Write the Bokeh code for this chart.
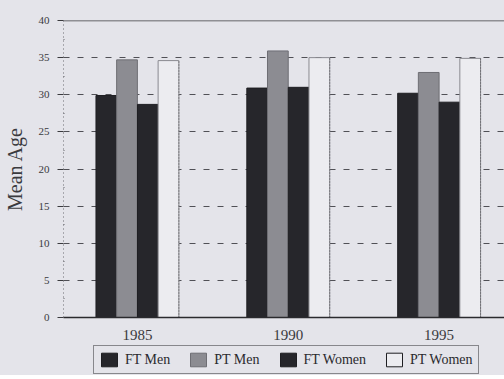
from bokeh.plotting import figure
from bokeh.layouts import column
from bokeh.models import (Range1d, FixedTicker, Span, ColumnDataSource, Legend, LegendItem)
from bokeh.embed import file_html
from bokeh.resources import INLINE

years = ["1985", "1990", "1995"]
series = ["FT Men", "PT Men", "FT Women", "PT Women"]
ft_men = [29.9, 30.9, 30.2]
pt_men = [34.7, 35.9, 33.0]
ft_women = [28.7, 31.0, 29.0]
pt_women = [34.6, 35.0, 34.9]
y_ticks = [0, 5, 10, 15, 20, 25, 30, 35, 40]

values = [ft_men, pt_men, ft_women, pt_women]
fills = ["#26262b", "#8c8c92", "#26262b", "#ececf0"]
lines = ["#1e1e22", "#6e6e74", "#1e1e22", "#8a8a90"]
offsets = [-0.206, -0.069, 0.069, 0.206]
bw = 0.1375
BG = "#e4e4ea"
SERIF = "Liberation Serif"

p = figure(frame_width=442, frame_height=297, output_backend="svg", toolbar_location=None,
           x_range=Range1d(-0.49, 2.44), y_range=Range1d(0, 40),
           min_border_left=62, min_border_right=0, min_border_top=20,
           min_border_bottom=0,
           background_fill_color=BG, border_fill_color=BG)
p.outline_line_color = None

xs = list(range(len(years)))
for vals, fc, lc, off in zip(values, fills, lines, offsets):
    src = ColumnDataSource(dict(x=[i + off for i in xs], top=vals))
    p.vbar(x="x", top="top", width=bw, bottom=0, source=src,
           fill_color=fc, line_color=lc, line_width=1)

# dotted right edges of PT Women bars
edge_src = ColumnDataSource(dict(x=[i + offsets[3] + bw / 2 for i in xs], y1=pt_women,
                                 y0=[0] * len(xs)))
p.segment(x0="x", x1="x", y0="y0", y1="y1", source=edge_src,
          line_color="#555559", line_dash="1 2", line_width=1)

# axes
p.xaxis.ticker = FixedTicker(ticks=xs)
p.xaxis.major_label_overrides = {i: y for i, y in zip(xs, years)}
p.xaxis.major_tick_line_color = None
p.xaxis.minor_tick_line_color = None
p.xaxis.axis_line_color = "#2a2a2e"
p.xaxis.axis_line_width = 1.5
p.xaxis.major_label_text_font = SERIF
p.xaxis.major_label_text_font_size = "15px"
p.xaxis.major_label_text_color = "#3a3a3e"
p.xaxis.major_label_standoff = 6

p.yaxis.ticker = FixedTicker(ticks=y_ticks, minor_ticks=[2.5 + 5 * k for k in range(8)])
p.yaxis.axis_line_color = "#6a6a70"
p.yaxis.axis_line_dash = "1 3"
p.yaxis.major_tick_in = 0
p.yaxis.major_tick_out = 6
p.yaxis.major_tick_line_color = "#3a3a3e"
p.yaxis.minor_tick_in = 1
p.yaxis.minor_tick_out = 0
p.yaxis.minor_tick_line_color = "#6a6a70"
p.yaxis.major_label_text_font = SERIF
p.yaxis.major_label_text_font_size = "11px"
p.yaxis.major_label_text_color = "#3a3a3e"
p.yaxis.major_label_standoff = 8
p.yaxis.axis_label = "Mean Age"
p.yaxis.axis_label_text_font = SERIF
p.yaxis.axis_label_text_font_style = "normal"
p.yaxis.axis_label_text_font_size = "20px"
p.yaxis.axis_label_text_color = "#3a3a3e"
p.yaxis.axis_label_standoff = 10

p.xgrid.grid_line_color = None
p.ygrid.grid_line_color = "#505056"
p.ygrid.grid_line_dash = "6 8"
p.ygrid.grid_line_width = 1.2

p.add_layout(Span(location=y_ticks[-1], dimension="width", line_color="#3a3a3e", line_width=1.5))

# legend strip (separate figure so the horizontal legend sits under the axis)
lg = figure(frame_width=504, frame_height=33, output_backend="svg", toolbar_location=None,
            x_range=Range1d(0, 1), y_range=Range1d(0, 1),
            min_border=0, background_fill_color=BG, border_fill_color=BG)
lg.axis.visible = False
lg.grid.visible = False
lg.outline_line_color = None
dummies = []
for fc, lc in zip(fills, lines):
    dummies.append(lg.vbar(x=[-5], top=[0], width=0.1, fill_color=fc,
                           line_color="#1e1e22" if fc == fills[3] else lc, line_width=1))

legend = Legend(items=[LegendItem(label=s, renderers=[r]) for s, r in zip(series, dummies)],
                orientation="horizontal", location=(93, 1),
                label_text_font=SERIF, label_text_font_size="14px", label_text_color="#2a2a2e",
                glyph_width=20, glyph_height=17, label_standoff=6, spacing=18,
                padding=5, margin=0,
                border_line_color="#2a2a2e", border_line_width=1.5,
                background_fill_color=BG, background_fill_alpha=1.0)
lg.add_layout(legend, "center")

layout = column(p, lg, spacing=0, styles={"background-color": BG})
open("out.html", "w").write(file_html(layout, INLINE))
